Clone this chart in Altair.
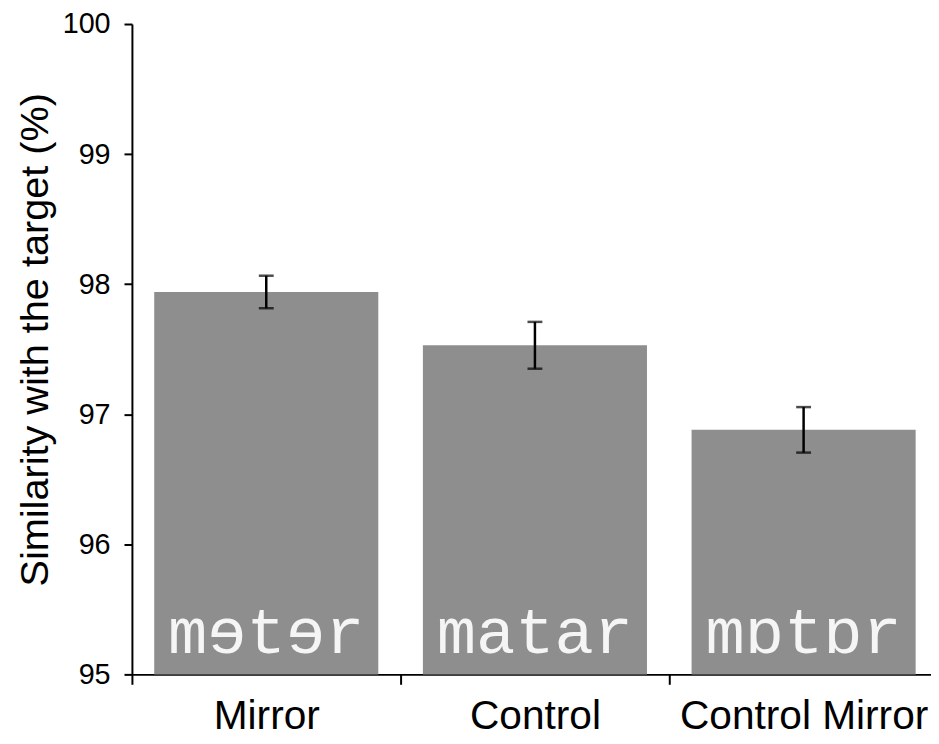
import altair as alt
import pandas as pd

conditions = ["Mirror", "Control", "Control Mirror"]
similarity = [97.94, 97.53, 96.88]
errors = [0.125, 0.18, 0.175]
words = ["mɘtɘr", "matar", "mɒtɒr"]
y_ticks = [95, 96, 97, 98, 99, 100]
y_min, y_max = 95, 100

df = pd.DataFrame({
    "condition": conditions,
    "similarity": similarity,
    "lo": [s - e for s, e in zip(similarity, errors)],
    "hi": [s + e for s, e in zip(similarity, errors)],
    "word": words,
    "base": [y_min] * len(conditions),
})

W, H = 806, 656
XR = 813
step = XR / 3.0
y_title = "Similarity with the target (%)"

x = alt.X(
    "condition:N", sort=conditions, title=None,
    scale=alt.Scale(paddingInner=0.166, paddingOuter=0.083, range=[0, XR]),
    axis=alt.Axis(labelAngle=0, labelFontSize=41, labelLimit=0, tickSize=10, labelPadding=13,
                  tickOffset=-step / 2, labelOffset=step / 2),
)
yscale = alt.Scale(domain=[y_min, y_max], nice=False, zero=False)
yaxis = alt.Axis(values=y_ticks, labelFontSize=29, tickSize=8, labelPadding=14,
                 titleFontSize=40, titleFontWeight="normal", titlePadding=7,
                 titleY=318)


def Y(field):
    return alt.Y(field, type="quantitative", scale=yscale, title=y_title, axis=yaxis)


base = alt.Chart(df).encode(x=x)

bars = base.mark_bar(color="#8e8e8e").encode(y=Y("similarity"), y2="base:Q")
err = base.mark_rule(color="black", strokeWidth=2.5).encode(y=Y("lo"), y2="hi:Q")
cap_lo = base.mark_tick(color="black", size=15, thickness=2.5).encode(y=Y("lo"))
cap_hi = base.mark_tick(color="black", size=15, thickness=2.5).encode(y=Y("hi"))
text = base.mark_text(font="Liberation Mono", fontSize=66, color="#f5f5f5",
                      baseline="alphabetic", dy=-22).encode(y=Y("base"), text="word:N")

chart = alt.layer(bars, err, cap_lo, cap_hi, text).properties(
    width=W, height=H, autosize="none",
    padding={"left": 125, "top": 13, "right": 0, "bottom": 60},
).configure_view(stroke=None).configure_axis(
    labelFont="Liberation Sans", titleFont="Liberation Sans",
    labelColor="black", titleColor="black",
    domainColor="black", domainWidth=2, tickColor="black", tickWidth=2, grid=False,
)

chart.save("out.html", embed_options={"renderer": "svg", "actions": False})
